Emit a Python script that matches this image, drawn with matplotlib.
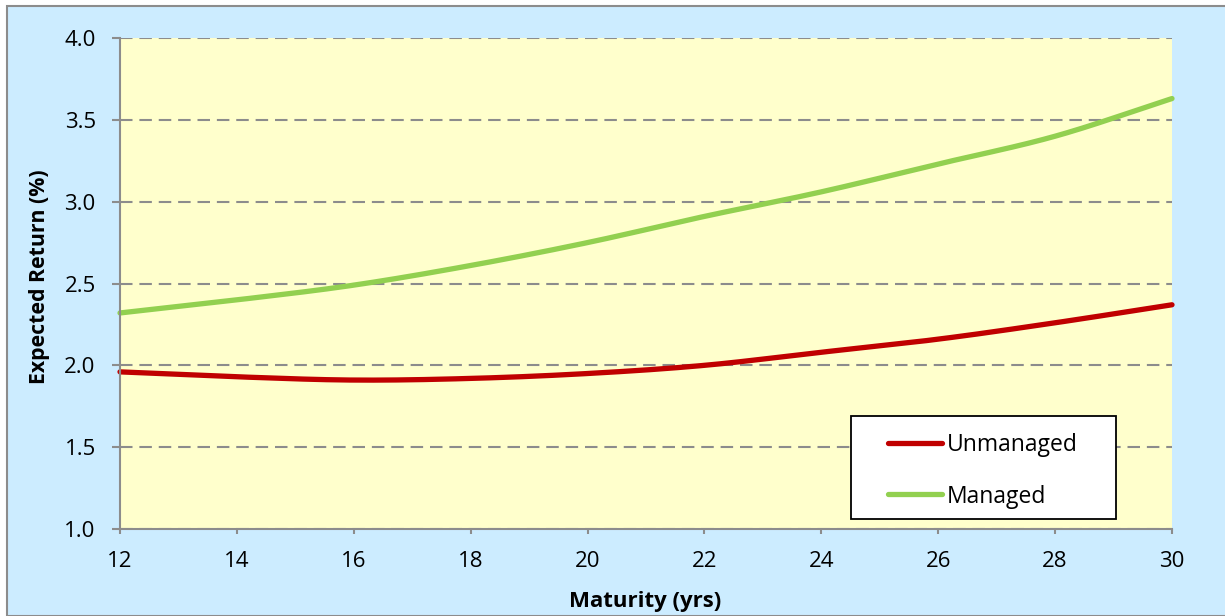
import numpy as np
import matplotlib
matplotlib.use("Agg")
import matplotlib.pyplot as plt
from matplotlib.patches import Rectangle

plt.rcParams['font.family'] = ['Open Sans', 'DejaVu Sans']

maturity = [12, 14, 16, 18, 20, 22, 24, 26, 28, 30]
unmanaged = [1.96, 1.93, 1.91, 1.92, 1.95, 2.00, 2.08, 2.16, 2.26, 2.37]
managed = [2.32, 2.40, 2.49, 2.61, 2.75, 2.91, 3.06, 3.23, 3.40, 3.63]


def smooth(x, y, n=30):
    """Catmull-Rom curve through the given points (spreadsheet-style smoothed line)."""
    x = np.asarray(x, float)
    y = np.asarray(y, float)
    px = np.concatenate([[2 * x[0] - x[1]], x, [2 * x[-1] - x[-2]]])
    py = np.concatenate([[2 * y[0] - y[1]], y, [2 * y[-1] - y[-2]]])
    xs, ys = [], []
    t = np.linspace(0, 1, n, endpoint=False)
    for i in range(1, len(px) - 2):
        for p, out in ((px, xs), (py, ys)):
            p0, p1, p2, p3 = p[i - 1], p[i], p[i + 1], p[i + 2]
            out.extend(0.5 * ((2 * p1) + (-p0 + p2) * t
                              + (2 * p0 - 5 * p1 + 4 * p2 - p3) * t ** 2
                              + (-p0 + 3 * p1 - 3 * p2 + p3) * t ** 3))
    xs.append(x[-1])
    ys.append(y[-1])
    return np.array(xs), np.array(ys)


W, H = 1225, 616
fig = plt.figure(figsize=(W / 100, H / 100), dpi=100)
fig.patch.set_facecolor('white')

# chart-area background with a grey frame on its top and left
fig.patches.append(Rectangle((7 / W, 0), 1, 1 - 6 / H, transform=fig.transFigure,
                             facecolor='#CCECFF', edgecolor='#8C8C8C', linewidth=1.5,
                             zorder=-10))

ax = fig.add_axes([120 / W, 1 - 529 / H, (1172 - 120) / W, (529 - 38) / H])
ax.set_facecolor('#FFFFCC')

for s in ('top', 'right'):
    ax.spines[s].set_visible(False)
for s in ('left', 'bottom'):
    ax.spines[s].set_color('#8C8C8C')
    ax.spines[s].set_linewidth(1.5)

ax.set_xlim(12, 30)
ax.set_ylim(1.0, 4.0)
ax.set_xticks(range(12, 31, 2))
ax.set_yticks(np.arange(1.0, 4.01, 0.5))
ax.yaxis.set_major_formatter(matplotlib.ticker.FormatStrFormatter('%.1f'))
ax.tick_params(axis='y', direction='out', length=5.5, width=1.5, color='#8C8C8C',
               labelsize=16, pad=12)
ax.tick_params(axis='x', direction='out', length=3.5, width=1.5, color='#8C8C8C',
               labelsize=16, pad=12)

ax.yaxis.grid(True, linestyle=(0, (6, 3.3)), color='#8C8C8C', linewidth=1.5)
ax.set_axisbelow(True)

xu, yu = smooth(maturity, unmanaged)
xm, ym = smooth(maturity, managed)
ax.plot(xu, yu, color='#C00000', linewidth=3.8, solid_capstyle='round',
        label='Unmanaged', clip_on=False)
ax.plot(xm, ym, color='#92D050', linewidth=3.8, solid_capstyle='round',
        label='Managed', clip_on=False)

# legend frame drawn separately so the entries can sit inset from its edge
ax.add_patch(Rectangle((0.695, 0.0204), 0.252, 0.2098, transform=ax.transAxes,
                       facecolor='white', edgecolor='black', linewidth=1.3,
                       zorder=5))
leg = ax.legend(loc='center left', bbox_to_anchor=(0.730, 0.1191),
                fontsize=16.5, frameon=False, handlelength=2.36,
                handletextpad=0.2, labelspacing=1.22, borderaxespad=0,
                borderpad=0)
leg.set_zorder(6)

fig.text(40 / W, 1 - 277 / H, 'Expected Return (%)', rotation=90, ha='center',
         va='center', fontsize=15.3, fontweight='bold')
fig.text(645 / W, 1 - 601 / H, 'Maturity (yrs)', ha='center', va='center',
         fontsize=16, fontweight='bold')

fig.savefig('out.png', dpi=100, facecolor=fig.get_facecolor())
